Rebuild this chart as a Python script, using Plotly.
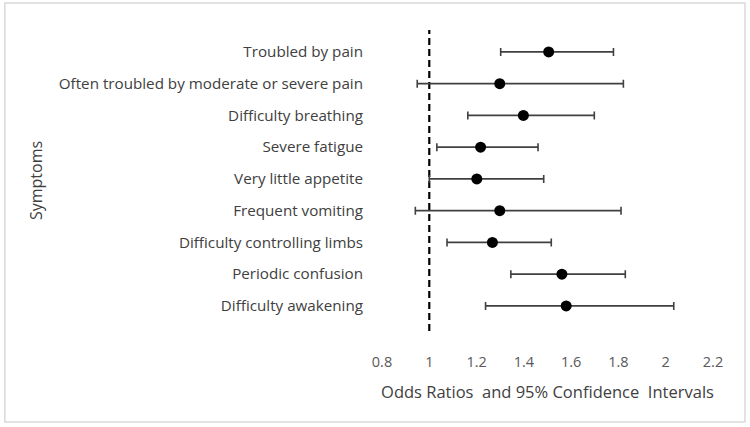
import plotly.graph_objects as go

symptoms = [
    "Troubled by pain",
    "Often troubled by moderate or severe pain",
    "Difficulty breathing",
    "Severe fatigue",
    "Very little appetite",
    "Frequent vomiting",
    "Difficulty controlling limbs",
    "Periodic confusion",
    "Difficulty awakening",
]
odds_ratio = [1.505, 1.298, 1.398, 1.217, 1.201, 1.298, 1.267, 1.561, 1.579]
ci_low = [1.302, 0.949, 1.163, 1.032, 1.000, 0.941, 1.075, 1.345, 1.238]
ci_high = [1.779, 1.821, 1.698, 1.460, 1.484, 1.811, 1.516, 1.829, 2.034]
x_ticks = [0.8, 1, 1.2, 1.4, 1.6, 1.8, 2, 2.2]
x_ticktext = ["0.8", "1", "1.2", "1.4", "1.6", "1.8", "2", "2.2"]
reference_or = 1

err_plus = [h - o for h, o in zip(ci_high, odds_ratio)]
err_minus = [o - l for o, l in zip(odds_ratio, ci_low)]

FONT = "Open Sans, sans-serif"
W, H = 750, 427
ml, mr, mt, mb = 381.6, 37, 30, 96

fig = go.Figure()
fig.add_trace(go.Scatter(
    x=odds_ratio, y=symptoms, mode="markers",
    marker=dict(color="black", size=11),
    error_x=dict(type="data", symmetric=False, array=err_plus, arrayminus=err_minus,
                 color="#404040", thickness=1.6, width=4),
    showlegend=False,
))

fig.add_shape(type="line", xref="x", yref="paper", x0=reference_or, x1=reference_or, y0=0, y1=1,
              line=dict(color="black", width=2.2, dash="7px,4px"), layer="below")

pw = W - ml - mr
ph = H - mt - mb
# chart border
bx0, bx1, by0, by1 = 4, 745, 3, 422
fig.add_shape(type="rect", xref="paper", yref="paper",
              x0=(bx0 - ml) / pw, x1=(bx1 - ml) / pw,
              y0=1 - (by1 - mt) / ph, y1=1 - (by0 - mt) / ph,
              line=dict(color="#d9d9d9", width=1.5))

fig.update_layout(
    width=W, height=H,
    margin=dict(l=ml, r=mr, t=mt, b=mb, pad=0),
    paper_bgcolor="white", plot_bgcolor="white",
    font=dict(family=FONT, color="#404040", size=15),
    xaxis=dict(range=[0.8, 2.2], tickvals=x_ticks, ticktext=x_ticktext,
               showgrid=False, zeroline=False, showline=False, ticks="",
               tickfont=dict(size=14.5, color="#595959"), ticklabelstandoff=20,
               title=dict(text="Odds Ratios\u00a0 and 95% Confidence\u00a0 Intervals",
                          font=dict(size=16.5, color="#404040"), standoff=16)),
    yaxis=dict(type="category", categoryorder="array", categoryarray=symptoms,
               range=[8.79, -0.69], showgrid=False, zeroline=False, showline=False,
               ticks="", tickfont=dict(size=15.2, color="#404040"), ticklabelstandoff=18,
               title=dict(text="Symptoms", font=dict(size=16, color="#404040"), standoff=12)),
)

fig.write_html("out.html", config={"displayModeBar": False},
               post_script="document.body.style.margin='0px';")
